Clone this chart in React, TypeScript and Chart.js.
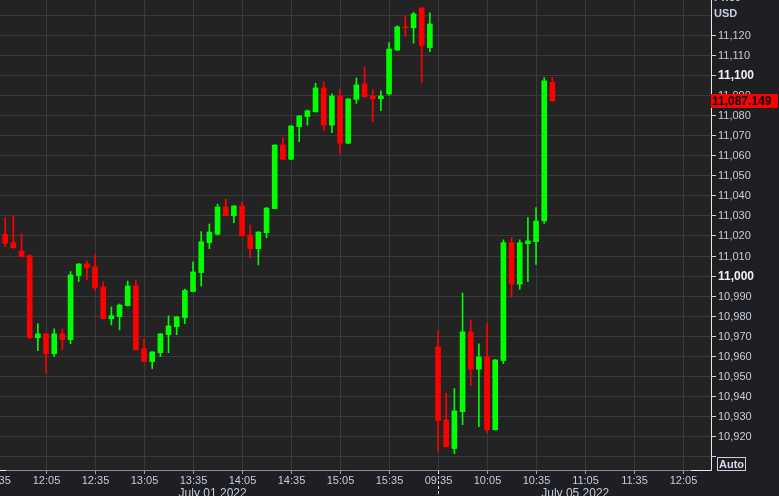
import React, { useEffect, useRef } from "react";
import { Chart, registerables } from "chart.js";

Chart.register(...registerables);

// OHLC, 5-minute candles: July 01 2022 11:40–16:00, July 05 2022 09:35–10:45
const opens = [
  11020.6, 11016.4, 11012.3, 11009.9, 10969.0, 10970.9, 10961.0, 10970.9, 10968.0, 11000.0,
  11005.8, 11004.3, 10994.3, 10978.5, 10979.5, 10985.0, 10994.8, 10963.4, 10957.1, 10961.5,
  10970.5, 10974.5, 10979.0, 10992.0, 11001.5, 11016.4, 11020.6, 11034.2, 11029.9, 11034.7,
  11020.2, 11013.4, 11021.4, 11033.4, 11065.1, 11058.0, 11074.3, 11079.3, 11081.7, 11093.6,
  11075.0, 11089.6, 11066.0, 11087.9, 11095.6, 11089.6, 11088.2, 11090.6, 11112.5, 11124.1,
  11123.6, 11133.5, 11113.7, 10964.4, 10928.0, 10913.7, 10932.1, 10971.9, 10953.3, 10959.4,
  10923.1, 10957.6, 11016.4, 10995.7, 11015.9, 11016.9, 11027.2, 11096.4,
];
const highs = [
  11029.1, 11029.9, 11020.9, 11010.4, 10975.9, 10971.2, 10973.4, 10973.4, 11002.0, 11006.0,
  11007.3, 11010.4, 10996.8, 10984.3, 10985.8, 10997.3, 10997.8, 10968.4, 10962.1, 10971.1,
  10979.9, 10979.6, 10993.2, 11006.8, 11021.9, 11025.7, 11035.6, 11038.2, 11034.9, 11036.7,
  11025.2, 11021.9, 11033.9, 11065.3, 11069.0, 11074.8, 11079.8, 11082.6, 11095.9, 11096.6,
  11090.6, 11092.9, 11088.3, 11098.6, 11103.9, 11092.6, 11092.1, 11116.2, 11124.6, 11129.6,
  11131.3, 11133.8, 11131.0, 10972.4, 10941.3, 10943.6, 10991.3, 10977.9, 10965.9, 10976.0,
  10958.1, 11017.8, 11019.1, 11017.8, 11028.9, 11033.9, 11098.7, 11098.9,
];
const lows = [
  11014.4, 11013.5, 11009.2, 10968.5, 10962.5, 10951.4, 10959.6, 10963.0, 10966.0, 10997.0,
  10998.0, 10992.5, 10978.3, 10975.4, 10972.9, 10984.8, 10962.8, 10956.9, 10953.6, 10959.6,
  10961.5, 10970.5, 10976.0, 10991.8, 10994.8, 11013.4, 11020.2, 11029.7, 11026.4, 11019.7,
  11008.9, 11005.3, 11018.9, 11033.2, 11057.8, 11057.8, 11066.8, 11075.0, 11081.5, 11072.3,
  11071.3, 11060.8, 11065.8, 11085.9, 11088.9, 11076.8, 11082.2, 11090.0, 11112.3, 11119.2,
  11115.9, 11096.2, 11111.7, 10912.5, 10914.5, 10911.2, 10925.6, 10945.1, 10924.6, 10921.6,
  10922.9, 10956.1, 10989.0, 10993.2, 10997.0, 11005.6, 11026.1, 11087.0,
];
const closes = [
  11016.1, 11013.9, 11009.4, 10969.0, 10970.9, 10961.0, 10970.9, 10968.0, 11000.3, 11005.8,
  11003.9, 10994.0, 10978.5, 10980.0, 10985.3, 10994.8, 10963.0, 10957.1, 10961.9, 10970.9,
  10974.9, 10979.4, 10992.5, 11001.8, 11016.8, 11021.7, 11034.2, 11029.9, 11034.7, 11019.9,
  11013.4, 11021.7, 11033.7, 11065.1, 11058.0, 11074.6, 11079.6, 11082.2, 11093.6, 11075.0,
  11089.6, 11066.0, 11088.1, 11095.1, 11089.2, 11088.2, 11089.6, 11113.0, 11124.1, 11123.6,
  11130.5, 11114.7, 11125.5, 10927.6, 10914.7, 10932.5, 10971.9, 10953.3, 10959.4, 10923.1,
  10957.9, 11016.4, 10995.7, 11016.4, 11017.3, 11027.2, 11097.1, 11087.149,
];
const lastPrice = 11087.149;
const lastPriceLabel = "11,087.149";

// x axis (candle index) ticks
const xTickIdx = [-1, 5, 11, 17, 23, 29, 35, 41, 47, 53, 59, 65, 71, 77, 83];
const xTickLabels = [
  "11:35", "12:05", "12:35", "13:05", "13:35", "14:05", "14:35", "15:05", "15:35",
  "09:35", "10:05", "10:35", "11:05", "11:35", "12:05",
];
const sessionBreakIdx = 53;
const dateLabels = ["July 01 2022", "July 05 2022"];
const dateLabelIdx = [25.4, 69.8];

// y axis ticks
const yTicks = [
  10910, 10920, 10930, 10940, 10950, 10960, 10970, 10980, 10990, 11000, 11010, 11020,
  11030, 11040, 11050, 11060, 11070, 11080, 11090, 11100, 11110, 11120, 11130,
];
const yTickLabels = [
  "", "10,920", "10,930", "10,940", "10,950", "10,960", "10,970", "10,980", "10,990",
  "11,000", "11,010", "11,020", "11,030", "11,040", "11,050", "11,060", "11,070",
  "11,080", "11,090", "11,100", "11,110", "11,120", "",
];
const boldTicks = [11000, 11100];

const UP = "#00ff00";
const DOWN = "#ff0000";
const FONT = "'Liberation Sans', Arial, sans-serif";
const TXT = "#c4cedc";

const chromePlugin = {
  id: "chrome",
  beforeDraw(chart: any) {
    const { ctx, chartArea: a, scales } = chart;
    const x = scales.x;
    const y = scales.y;
    ctx.save();
    ctx.fillStyle = "#1f1e22";
    ctx.fillRect(0, 0, chart.width, chart.height);
    ctx.fillStyle = "#222322";
    ctx.fillRect(a.left, a.top, a.right - a.left, a.bottom - a.top);
    ctx.strokeStyle = "#393a3a";
    ctx.lineWidth = 1;
    ctx.beginPath();
    yTicks.forEach((v) => {
      const py = Math.round(y.getPixelForValue(v)) + 0.5;
      ctx.moveTo(a.left, py);
      ctx.lineTo(a.right, py);
    });
    xTickIdx.forEach((i) => {
      const px = Math.round(x.getPixelForValue(i)) + 0.5;
      if (px < a.left) return;
      ctx.moveTo(px, a.top);
      ctx.lineTo(px, a.bottom);
    });
    ctx.stroke();
    ctx.restore();
  },
  afterDraw(chart: any) {
    const { ctx, chartArea: a, scales } = chart;
    const x = scales.x;
    const y = scales.y;
    ctx.save();
    // axis lines
    ctx.lineWidth = 1;
    ctx.strokeStyle = "#8c8c8c";
    ctx.beginPath();
    ctx.moveTo(a.left, a.bottom + 0.5);
    ctx.lineTo(a.right - 20, a.bottom + 0.5);
    ctx.stroke();
    ctx.strokeStyle = "#e8e8e8";
    ctx.beginPath();
    ctx.moveTo(a.right - 20, a.bottom + 0.5);
    ctx.lineTo(a.right + 0.5, a.bottom + 0.5);
    ctx.lineTo(a.right + 0.5, a.top);
    ctx.moveTo(a.left, a.bottom + 0.5);
    ctx.lineTo(a.left + 6, a.bottom + 0.5);
    ctx.stroke();

    // y ticks and labels
    ctx.textBaseline = "middle";
    ctx.textAlign = "left";
    yTicks.forEach((v, k) => {
      const py = Math.round(y.getPixelForValue(v)) + 0.5;
      if (v !== 11130) {
        ctx.strokeStyle = "#d0d0d0";
        ctx.beginPath();
        ctx.moveTo(a.right, py);
        ctx.lineTo(a.right + 5, py);
        ctx.stroke();
      }
      const lbl = yTickLabels[k];
      if (!lbl) return;
      const bold = boldTicks.includes(v);
      ctx.font = (bold ? "bold 12px " : "11px ") + FONT;
      ctx.fillStyle = bold ? "#f0f0f0" : TXT;
      ctx.fillText(lbl, a.right + 7, py);
    });

    // Price / USD header
    ctx.font = "bold 11px " + FONT;
    ctx.fillStyle = TXT;
    ctx.fillText("Price", a.right + 3, -2);
    ctx.fillText("USD", a.right + 3, 14);

    // last price box
    const lp = y.getPixelForValue(lastPrice);
    ctx.fillStyle = "#ff0000";
    ctx.fillRect(a.right, Math.round(lp) - 7, chart.width - a.right - 1, 14);
    ctx.font = "bold 12px " + FONT;
    ctx.fillStyle = "#000000";
    ctx.fillText(lastPriceLabel, a.right + 1, Math.round(lp) + 0.5);

    // Auto box
    ctx.strokeStyle = "#c8d0de";
    ctx.strokeRect(a.right + 6.5, a.bottom - 12.5, 28, 13);
    ctx.font = "bold 11px " + FONT;
    ctx.fillStyle = "#d4dcea";
    ctx.textAlign = "center";
    ctx.fillText("Auto", a.right + 20.5, a.bottom - 5.5);

    // x ticks and labels
    ctx.font = "11px " + FONT;
    ctx.fillStyle = TXT;
    ctx.textAlign = "center";
    xTickIdx.forEach((i, k) => {
      const px = Math.round(x.getPixelForValue(i)) + 0.5;
      ctx.strokeStyle = "#a0a0a0";
      ctx.beginPath();
      ctx.moveTo(px, a.bottom + 1);
      ctx.lineTo(px, a.bottom + 4);
      ctx.stroke();
      ctx.fillText(xTickLabels[k], px, a.bottom + 11);
    });
    // session break marker
    const sb = Math.round(x.getPixelForValue(sessionBreakIdx)) + 0.5;
    ctx.strokeStyle = "#e8e8e8";
    ctx.setLineDash([3, 2]);
    ctx.beginPath();
    ctx.moveTo(sb, a.bottom + 1);
    ctx.lineTo(sb, chart.height);
    ctx.stroke();
    ctx.setLineDash([]);
    // date labels
    ctx.font = "12px " + FONT;
    ctx.textBaseline = "top";
    dateLabels.forEach((d, k) => {
      ctx.fillText(d, x.getPixelForValue(dateLabelIdx[k]), a.bottom + 18);
    });
    ctx.restore();
  },
};

export default function App() {
  const ref = useRef<HTMLCanvasElement>(null);
  useEffect(() => {
    if (!ref.current) return;
    const colors = opens.map((o, i) => (closes[i] >= o ? UP : DOWN));
    const chart = new Chart(ref.current, {
      type: "bar",
      data: {
        datasets: [
          {
            data: opens.map((_, i) => ({ x: i, y: [lows[i], highs[i]] })) as any,
            backgroundColor: colors,
            barThickness: 1,
            borderWidth: 0,
            grouped: false,
            order: 2,
          } as any,
          {
            data: opens.map((o, i) => ({ x: i, y: [o, closes[i]] })) as any,
            backgroundColor: colors,
            barThickness: 5,
            borderWidth: 0,
            grouped: false,
            order: 1,
          } as any,
        ],
      },
      options: {
        animation: false,
        responsive: false,
        devicePixelRatio: 1,
        events: [],
        layout: { padding: { left: 0, top: 0, right: 68, bottom: 26 } },
        plugins: { legend: { display: false }, tooltip: { enabled: false } },
        scales: {
          x: { type: "linear", min: -0.637, max: 86.42, offset: false, display: false },
          y: { type: "linear", min: 10903.0, max: 11137.46, display: false },
        },
      } as any,
      plugins: [chromePlugin],
    });
    return () => chart.destroy();
  }, []);
  return (
    <div style={{ position: "fixed", left: 0, top: 0, width: 779, height: 496 }}>
      <canvas ref={ref} width={779} height={496} style={{ display: "block" }} />
    </div>
  );
}
